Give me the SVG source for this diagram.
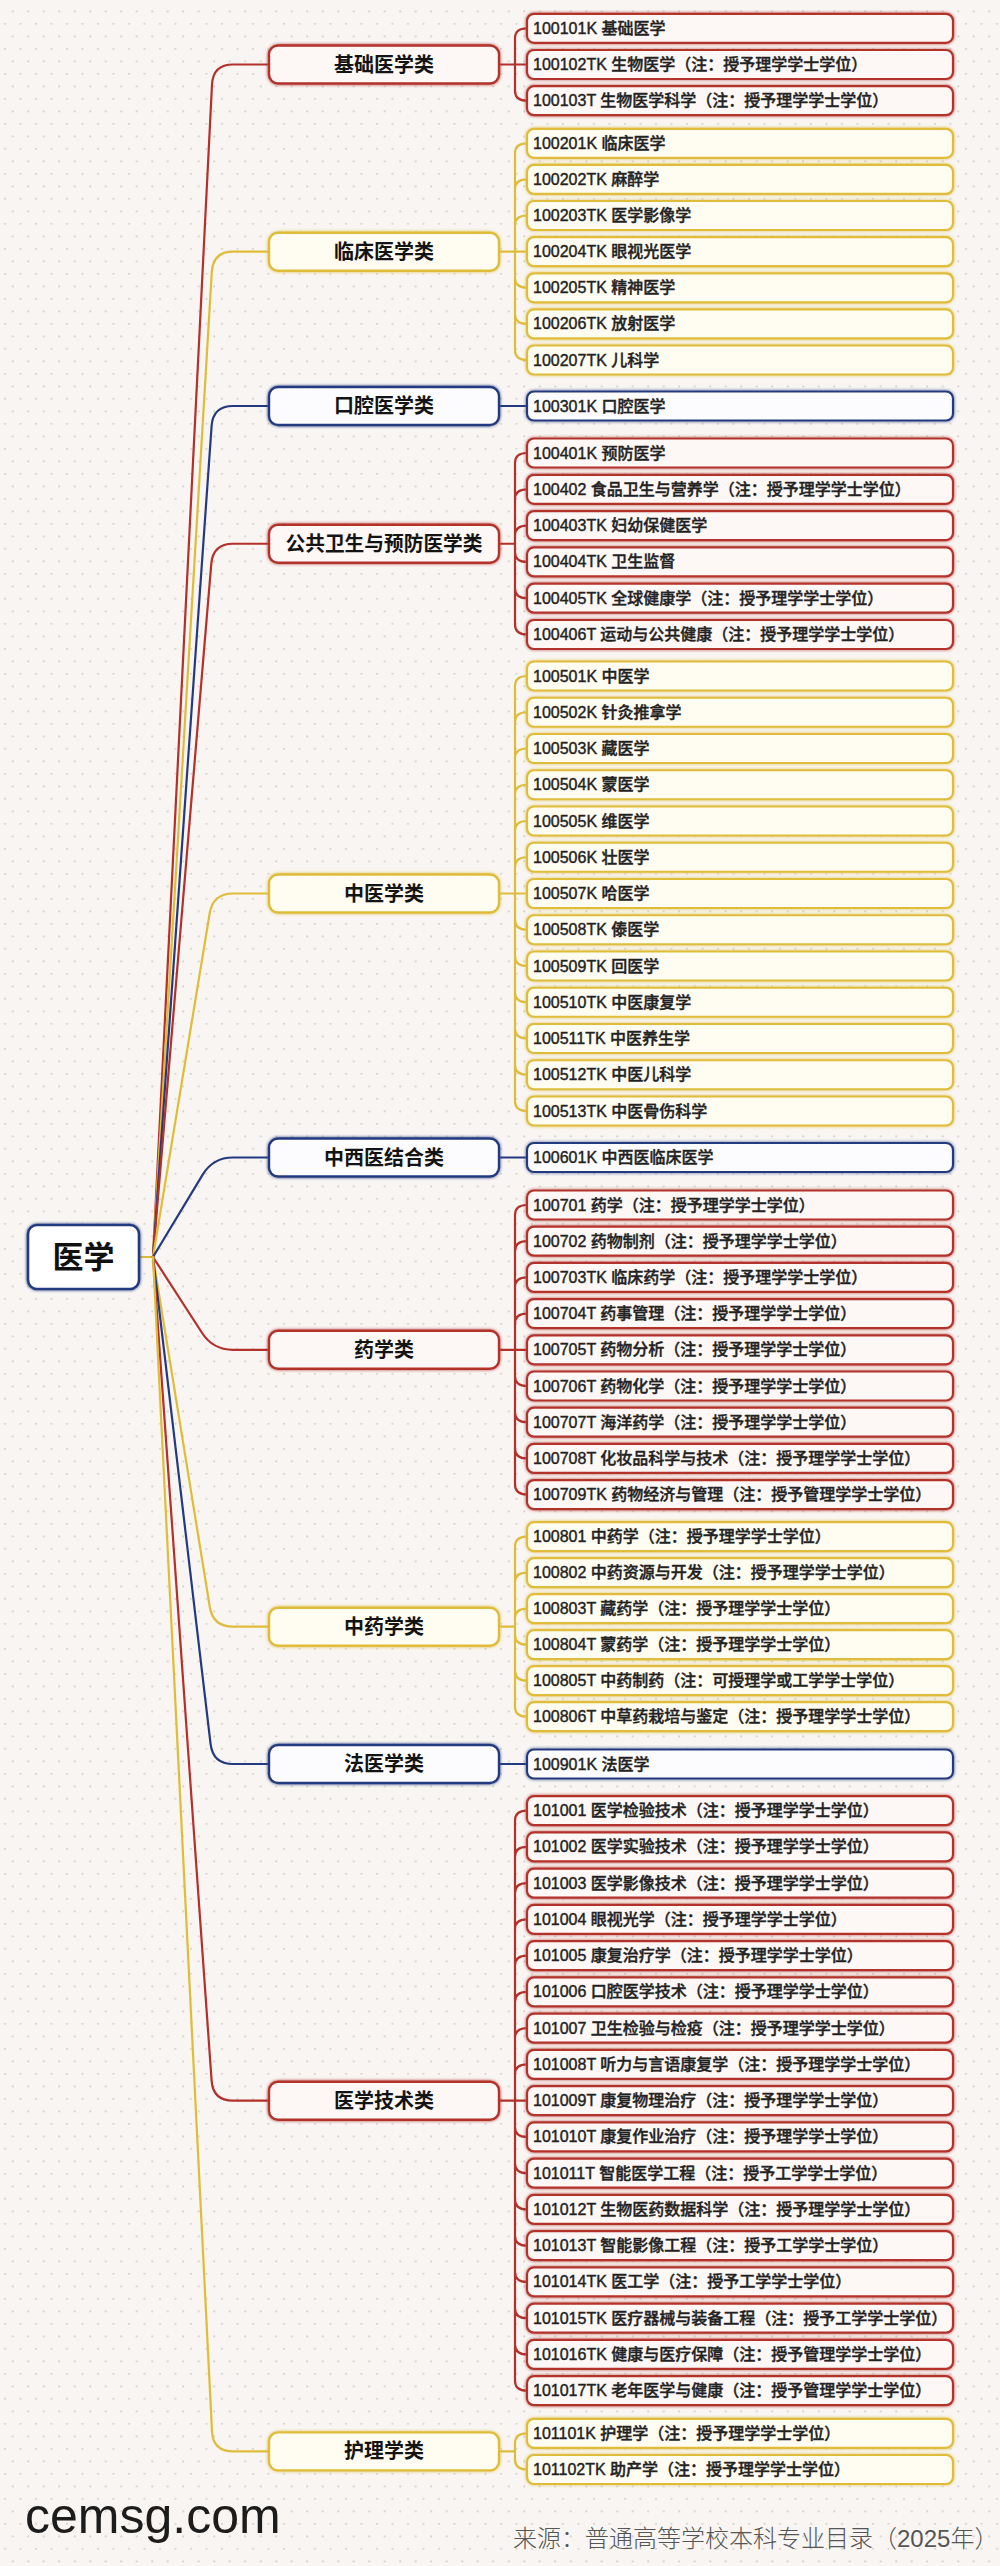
<svg xmlns="http://www.w3.org/2000/svg" width="1000" height="2566" viewBox="0 0 1000 2566">
<defs>
<pattern id="dots" patternUnits="userSpaceOnUse" width="15.5" height="25">
<circle cx="5" cy="23.8" r="1.1" fill="#d9d3ce"/>
<circle cx="12.75" cy="11.4" r="1.1" fill="#d9d3ce"/>
</pattern>
<filter id="glow" x="-5%" y="-30%" width="110%" height="160%">
<feGaussianBlur in="SourceGraphic" stdDeviation="1.6" result="b"/>
<feMerge><feMergeNode in="b"/><feMergeNode in="SourceGraphic"/></feMerge>
</filter>
</defs>
<style>
text{font-family:'Liberation Sans','Noto Sans CJK SC',sans-serif;}
.leaf rect{rx:7px;stroke-width:2.2;filter:url(#glow);}
.cat rect{rx:9px;stroke-width:2.4;filter:url(#glow);}
.leaf text{font-size:16px;font-weight:500;fill:#222222;stroke:#222222;stroke-width:0.4;}
.cat text{font-size:20px;font-weight:bold;fill:#141414;text-anchor:middle;}
.r rect{stroke:#b3302b;fill:#fdf7f5;}
.y rect{stroke:#dfbd3a;fill:#fffcf1;}
.b rect{stroke:#243a80;fill:#fcfcfe;}
#connectors path{fill:none;stroke-width:2.2;stroke-linecap:round;stroke-linejoin:round;}
#connectors .cr{stroke:#b3302b;}
#connectors .cy{stroke:#dfbd3a;}
#connectors .cb{stroke:#243a80;}
</style>
<rect width="1000" height="2566" fill="#f8f5f2"/>
<rect width="1000" height="2566" fill="url(#dots)"/>

<g id="connectors">
<path class="cy" d="M139,1257H153"/>
<path class="cr" d="M153,1257L212,84.5Q213,64.5 233,64.5H269"/>
<path class="cy" d="M153,1257L211.8,271.7Q213,251.7 233,251.7H269"/>
<path class="cb" d="M153,1257L211.6,426Q213,406 233,406H269"/>
<path class="cr" d="M153,1257L211.3,563.7Q213,543.75 233,543.75H269"/>
<path class="cy" d="M153,1257L209.7,913.2Q213,893.5 233,893.5H269"/>
<path class="cb" d="M153,1257L202.7,1174.6Q213,1157.5 233,1157.5H269"/>
<path class="cr" d="M153,1257L202.1,1333Q213,1349.8 233,1349.8H269"/>
<path class="cy" d="M153,1257L209.8,1607Q213,1626.7 233,1626.7H269"/>
<path class="cb" d="M153,1257L210.6,1744.1Q213,1764 233,1764H269"/>
<path class="cr" d="M153,1257L211.6,2080.7Q213,2100.7 233,2100.7H269"/>
<path class="cy" d="M153,1257L212,2431.4Q213,2451.4 233,2451.4H269"/>

<path class="cr" d="M499,64.5H527M515,64.5V38.3Q515,28.3 527,28.3M515,64.5V90.7Q515,100.7 527,100.7"/>
<path class="cy" d="M499,251.7H527M515,251.7V153.3Q515,143.3 527,143.3M515,251.7V189.4Q515,179.4 527,179.4M515,251.7V225.5Q515,215.5 527,215.5M515,251.7V277.8Q515,287.8 527,287.8M515,251.7V313.9Q515,323.9 527,323.9M515,251.7V350Q515,360 527,360"/>
<path class="cb" d="M499,406H527"/>
<path class="cr" d="M499,543.75H515M515,543.75V463Q515,453 527,453M515,543.75V499.3Q515,489.3 527,489.3M515,543.75V535.6Q515,525.6 527,525.6M515,543.75V551.9Q515,561.9 527,561.9M515,543.75V588.2Q515,598.2 527,598.2M515,543.75V624.5Q515,634.5 527,634.5"/>
<path class="cy" d="M499,893.5H527M515,893.5V686Q515,676 527,676M515,893.5V722.25Q515,712.25 527,712.25M515,893.5V758.5Q515,748.5 527,748.5M515,893.5V794.75Q515,784.75 527,784.75M515,893.5V831Q515,821 527,821M515,893.5V867.25Q515,857.25 527,857.25M515,893.5V919.75Q515,929.75 527,929.75M515,893.5V956Q515,966 527,966M515,893.5V992.25Q515,1002.25 527,1002.25M515,893.5V1028.5Q515,1038.5 527,1038.5M515,893.5V1064.75Q515,1074.75 527,1074.75M515,893.5V1101Q515,1111 527,1111"/>
<path class="cb" d="M499,1157.5H527"/>
<path class="cr" d="M499,1349.8H527M515,1349.8V1215Q515,1205 527,1205M515,1349.8V1251.2Q515,1241.2 527,1241.2M515,1349.8V1287.4Q515,1277.4 527,1277.4M515,1349.8V1323.6Q515,1313.6 527,1313.6M515,1349.8V1376Q515,1386 527,1386M515,1349.8V1412.2Q515,1422.2 527,1422.2M515,1349.8V1448.4Q515,1458.4 527,1458.4M515,1349.8V1484.6Q515,1494.6 527,1494.6"/>
<path class="cy" d="M499,1626.7H515M515,1626.7V1546.7Q515,1536.7 527,1536.7M515,1626.7V1582.7Q515,1572.7 527,1572.7M515,1626.7V1618.7Q515,1608.7 527,1608.7M515,1626.7V1634.7Q515,1644.7 527,1644.7M515,1626.7V1670.7Q515,1680.7 527,1680.7M515,1626.7V1706.7Q515,1716.7 527,1716.7"/>
<path class="cb" d="M499,1764H527"/>
<path class="cr" d="M499,2100.7H527M515,2100.7V1820.7Q515,1810.7 527,1810.7M515,2100.7V1856.95Q515,1846.95 527,1846.95M515,2100.7V1893.2Q515,1883.2 527,1883.2M515,2100.7V1929.45Q515,1919.45 527,1919.45M515,2100.7V1965.7Q515,1955.7 527,1955.7M515,2100.7V2001.95Q515,1991.95 527,1991.95M515,2100.7V2038.2Q515,2028.2 527,2028.2M515,2100.7V2074.45Q515,2064.45 527,2064.45M515,2100.7V2126.95Q515,2136.95 527,2136.95M515,2100.7V2163.2Q515,2173.2 527,2173.2M515,2100.7V2199.45Q515,2209.45 527,2209.45M515,2100.7V2235.7Q515,2245.7 527,2245.7M515,2100.7V2271.95Q515,2281.95 527,2281.95M515,2100.7V2308.2Q515,2318.2 527,2318.2M515,2100.7V2344.45Q515,2354.45 527,2354.45M515,2100.7V2380.7Q515,2390.7 527,2390.7"/>
<path class="cy" d="M499,2451.4H515M515,2451.4V2443.3Q515,2433.3 527,2433.3M515,2451.4V2459.5Q515,2469.5 527,2469.5"/>
</g>

<g id="root">
<rect x="28" y="1225" width="111" height="64" rx="9" fill="#ffffff" stroke="#243a80" stroke-width="2.6" filter="url(#glow)"/>
<text x="83.5" y="1268" font-size="31" font-weight="bold" fill="#111" text-anchor="middle">医学</text>
</g>

<g id="c01" class="cat r" transform="translate(0,64.5)"><rect x="269" y="-19" width="230" height="38"/><text x="384" y="7">基础医学类</text></g>
<g id="c02" class="cat y" transform="translate(0,251.7)"><rect x="269" y="-19" width="230" height="38"/><text x="384" y="7">临床医学类</text></g>
<g id="c03" class="cat b" transform="translate(0,406)"><rect x="269" y="-19" width="230" height="38"/><text x="384" y="7">口腔医学类</text></g>
<g id="c04" class="cat r" transform="translate(0,543.75)"><rect x="269" y="-19" width="230" height="38"/><text x="384" y="7" textLength="197" lengthAdjust="spacingAndGlyphs">公共卫生与预防医学类</text></g>
<g id="c05" class="cat y" transform="translate(0,893.5)"><rect x="269" y="-19" width="230" height="38"/><text x="384" y="7">中医学类</text></g>
<g id="c06" class="cat b" transform="translate(0,1157.5)"><rect x="269" y="-19" width="230" height="38"/><text x="384" y="7">中西医结合类</text></g>
<g id="c07" class="cat r" transform="translate(0,1349.8)"><rect x="269" y="-19" width="230" height="38"/><text x="384" y="7">药学类</text></g>
<g id="c08" class="cat y" transform="translate(0,1626.7)"><rect x="269" y="-19" width="230" height="38"/><text x="384" y="7">中药学类</text></g>
<g id="c09" class="cat b" transform="translate(0,1764)"><rect x="269" y="-19" width="230" height="38"/><text x="384" y="7">法医学类</text></g>
<g id="c10" class="cat r" transform="translate(0,2100.7)"><rect x="269" y="-19" width="230" height="38"/><text x="384" y="7">医学技术类</text></g>
<g id="c11" class="cat y" transform="translate(0,2451.4)"><rect x="269" y="-19" width="230" height="38"/><text x="384" y="7">护理学类</text></g>

<g id="l100101" class="leaf r" transform="translate(0,28.3)"><rect x="527" y="-14.5" width="426" height="29"/><text x="533" y="5.5">100101K 基础医学</text></g>
<g id="l100102" class="leaf r" transform="translate(0,64.5)"><rect x="527" y="-14.5" width="426" height="29"/><text x="533" y="5.5">100102TK 生物医学（注：授予理学学士学位）</text></g>
<g id="l100103" class="leaf r" transform="translate(0,100.7)"><rect x="527" y="-14.5" width="426" height="29"/><text x="533" y="5.5">100103T 生物医学科学（注：授予理学学士学位）</text></g>

<g id="l100201" class="leaf y" transform="translate(0,143.3)"><rect x="527" y="-14.5" width="426" height="29"/><text x="533" y="5.5">100201K 临床医学</text></g>
<g id="l100202" class="leaf y" transform="translate(0,179.4)"><rect x="527" y="-14.5" width="426" height="29"/><text x="533" y="5.5">100202TK 麻醉学</text></g>
<g id="l100203" class="leaf y" transform="translate(0,215.5)"><rect x="527" y="-14.5" width="426" height="29"/><text x="533" y="5.5">100203TK 医学影像学</text></g>
<g id="l100204" class="leaf y" transform="translate(0,251.7)"><rect x="527" y="-14.5" width="426" height="29"/><text x="533" y="5.5">100204TK 眼视光医学</text></g>
<g id="l100205" class="leaf y" transform="translate(0,287.8)"><rect x="527" y="-14.5" width="426" height="29"/><text x="533" y="5.5">100205TK 精神医学</text></g>
<g id="l100206" class="leaf y" transform="translate(0,323.9)"><rect x="527" y="-14.5" width="426" height="29"/><text x="533" y="5.5">100206TK 放射医学</text></g>
<g id="l100207" class="leaf y" transform="translate(0,360)"><rect x="527" y="-14.5" width="426" height="29"/><text x="533" y="5.5">100207TK 儿科学</text></g>

<g id="l100301" class="leaf b" transform="translate(0,406)"><rect x="527" y="-14.5" width="426" height="29"/><text x="533" y="5.5">100301K 口腔医学</text></g>

<g id="l100401" class="leaf r" transform="translate(0,453)"><rect x="527" y="-14.5" width="426" height="29"/><text x="533" y="5.5">100401K 预防医学</text></g>
<g id="l100402" class="leaf r" transform="translate(0,489.3)"><rect x="527" y="-14.5" width="426" height="29"/><text x="533" y="5.5">100402 食品卫生与营养学（注：授予理学学士学位）</text></g>
<g id="l100403" class="leaf r" transform="translate(0,525.6)"><rect x="527" y="-14.5" width="426" height="29"/><text x="533" y="5.5">100403TK 妇幼保健医学</text></g>
<g id="l100404" class="leaf r" transform="translate(0,561.9)"><rect x="527" y="-14.5" width="426" height="29"/><text x="533" y="5.5">100404TK 卫生监督</text></g>
<g id="l100405" class="leaf r" transform="translate(0,598.2)"><rect x="527" y="-14.5" width="426" height="29"/><text x="533" y="5.5">100405TK 全球健康学（注：授予理学学士学位）</text></g>
<g id="l100406" class="leaf r" transform="translate(0,634.5)"><rect x="527" y="-14.5" width="426" height="29"/><text x="533" y="5.5">100406T 运动与公共健康（注：授予理学学士学位）</text></g>

<g id="l100501" class="leaf y" transform="translate(0,676)"><rect x="527" y="-14.5" width="426" height="29"/><text x="533" y="5.5">100501K 中医学</text></g>
<g id="l100502" class="leaf y" transform="translate(0,712.25)"><rect x="527" y="-14.5" width="426" height="29"/><text x="533" y="5.5">100502K 针灸推拿学</text></g>
<g id="l100503" class="leaf y" transform="translate(0,748.5)"><rect x="527" y="-14.5" width="426" height="29"/><text x="533" y="5.5">100503K 藏医学</text></g>
<g id="l100504" class="leaf y" transform="translate(0,784.75)"><rect x="527" y="-14.5" width="426" height="29"/><text x="533" y="5.5">100504K 蒙医学</text></g>
<g id="l100505" class="leaf y" transform="translate(0,821)"><rect x="527" y="-14.5" width="426" height="29"/><text x="533" y="5.5">100505K 维医学</text></g>
<g id="l100506" class="leaf y" transform="translate(0,857.25)"><rect x="527" y="-14.5" width="426" height="29"/><text x="533" y="5.5">100506K 壮医学</text></g>
<g id="l100507" class="leaf y" transform="translate(0,893.5)"><rect x="527" y="-14.5" width="426" height="29"/><text x="533" y="5.5">100507K 哈医学</text></g>
<g id="l100508" class="leaf y" transform="translate(0,929.75)"><rect x="527" y="-14.5" width="426" height="29"/><text x="533" y="5.5">100508TK 傣医学</text></g>
<g id="l100509" class="leaf y" transform="translate(0,966)"><rect x="527" y="-14.5" width="426" height="29"/><text x="533" y="5.5">100509TK 回医学</text></g>
<g id="l100510" class="leaf y" transform="translate(0,1002.25)"><rect x="527" y="-14.5" width="426" height="29"/><text x="533" y="5.5">100510TK 中医康复学</text></g>
<g id="l100511" class="leaf y" transform="translate(0,1038.5)"><rect x="527" y="-14.5" width="426" height="29"/><text x="533" y="5.5">100511TK 中医养生学</text></g>
<g id="l100512" class="leaf y" transform="translate(0,1074.75)"><rect x="527" y="-14.5" width="426" height="29"/><text x="533" y="5.5">100512TK 中医儿科学</text></g>
<g id="l100513" class="leaf y" transform="translate(0,1111)"><rect x="527" y="-14.5" width="426" height="29"/><text x="533" y="5.5">100513TK 中医骨伤科学</text></g>

<g id="l100601" class="leaf b" transform="translate(0,1157.5)"><rect x="527" y="-14.5" width="426" height="29"/><text x="533" y="5.5">100601K 中西医临床医学</text></g>

<g id="l100701" class="leaf r" transform="translate(0,1205)"><rect x="527" y="-14.5" width="426" height="29"/><text x="533" y="5.5">100701 药学（注：授予理学学士学位）</text></g>
<g id="l100702" class="leaf r" transform="translate(0,1241.2)"><rect x="527" y="-14.5" width="426" height="29"/><text x="533" y="5.5">100702 药物制剂（注：授予理学学士学位）</text></g>
<g id="l100703" class="leaf r" transform="translate(0,1277.4)"><rect x="527" y="-14.5" width="426" height="29"/><text x="533" y="5.5">100703TK 临床药学（注：授予理学学士学位）</text></g>
<g id="l100704" class="leaf r" transform="translate(0,1313.6)"><rect x="527" y="-14.5" width="426" height="29"/><text x="533" y="5.5">100704T 药事管理（注：授予理学学士学位）</text></g>
<g id="l100705" class="leaf r" transform="translate(0,1349.8)"><rect x="527" y="-14.5" width="426" height="29"/><text x="533" y="5.5">100705T 药物分析（注：授予理学学士学位）</text></g>
<g id="l100706" class="leaf r" transform="translate(0,1386)"><rect x="527" y="-14.5" width="426" height="29"/><text x="533" y="5.5">100706T 药物化学（注：授予理学学士学位）</text></g>
<g id="l100707" class="leaf r" transform="translate(0,1422.2)"><rect x="527" y="-14.5" width="426" height="29"/><text x="533" y="5.5">100707T 海洋药学（注：授予理学学士学位）</text></g>
<g id="l100708" class="leaf r" transform="translate(0,1458.4)"><rect x="527" y="-14.5" width="426" height="29"/><text x="533" y="5.5">100708T 化妆品科学与技术（注：授予理学学士学位）</text></g>
<g id="l100709" class="leaf r" transform="translate(0,1494.6)"><rect x="527" y="-14.5" width="426" height="29"/><text x="533" y="5.5">100709TK 药物经济与管理（注：授予管理学学士学位）</text></g>

<g id="l100801" class="leaf y" transform="translate(0,1536.7)"><rect x="527" y="-14.5" width="426" height="29"/><text x="533" y="5.5">100801 中药学（注：授予理学学士学位）</text></g>
<g id="l100802" class="leaf y" transform="translate(0,1572.7)"><rect x="527" y="-14.5" width="426" height="29"/><text x="533" y="5.5">100802 中药资源与开发（注：授予理学学士学位）</text></g>
<g id="l100803" class="leaf y" transform="translate(0,1608.7)"><rect x="527" y="-14.5" width="426" height="29"/><text x="533" y="5.5">100803T 藏药学（注：授予理学学士学位）</text></g>
<g id="l100804" class="leaf y" transform="translate(0,1644.7)"><rect x="527" y="-14.5" width="426" height="29"/><text x="533" y="5.5">100804T 蒙药学（注：授予理学学士学位）</text></g>
<g id="l100805" class="leaf y" transform="translate(0,1680.7)"><rect x="527" y="-14.5" width="426" height="29"/><text x="533" y="5.5">100805T 中药制药（注：可授理学或工学学士学位）</text></g>
<g id="l100806" class="leaf y" transform="translate(0,1716.7)"><rect x="527" y="-14.5" width="426" height="29"/><text x="533" y="5.5">100806T 中草药栽培与鉴定（注：授予理学学士学位）</text></g>

<g id="l100901" class="leaf b" transform="translate(0,1764)"><rect x="527" y="-14.5" width="426" height="29"/><text x="533" y="5.5">100901K 法医学</text></g>

<g id="l101001" class="leaf r" transform="translate(0,1810.7)"><rect x="527" y="-14.5" width="426" height="29"/><text x="533" y="5.5">101001 医学检验技术（注：授予理学学士学位）</text></g>
<g id="l101002" class="leaf r" transform="translate(0,1846.95)"><rect x="527" y="-14.5" width="426" height="29"/><text x="533" y="5.5">101002 医学实验技术（注：授予理学学士学位）</text></g>
<g id="l101003" class="leaf r" transform="translate(0,1883.2)"><rect x="527" y="-14.5" width="426" height="29"/><text x="533" y="5.5">101003 医学影像技术（注：授予理学学士学位）</text></g>
<g id="l101004" class="leaf r" transform="translate(0,1919.45)"><rect x="527" y="-14.5" width="426" height="29"/><text x="533" y="5.5">101004 眼视光学（注：授予理学学士学位）</text></g>
<g id="l101005" class="leaf r" transform="translate(0,1955.7)"><rect x="527" y="-14.5" width="426" height="29"/><text x="533" y="5.5">101005 康复治疗学（注：授予理学学士学位）</text></g>
<g id="l101006" class="leaf r" transform="translate(0,1991.95)"><rect x="527" y="-14.5" width="426" height="29"/><text x="533" y="5.5">101006 口腔医学技术（注：授予理学学士学位）</text></g>
<g id="l101007" class="leaf r" transform="translate(0,2028.2)"><rect x="527" y="-14.5" width="426" height="29"/><text x="533" y="5.5">101007 卫生检验与检疫（注：授予理学学士学位）</text></g>
<g id="l101008" class="leaf r" transform="translate(0,2064.45)"><rect x="527" y="-14.5" width="426" height="29"/><text x="533" y="5.5">101008T 听力与言语康复学（注：授予理学学士学位）</text></g>
<g id="l101009" class="leaf r" transform="translate(0,2100.7)"><rect x="527" y="-14.5" width="426" height="29"/><text x="533" y="5.5">101009T 康复物理治疗（注：授予理学学士学位）</text></g>
<g id="l101010" class="leaf r" transform="translate(0,2136.95)"><rect x="527" y="-14.5" width="426" height="29"/><text x="533" y="5.5">101010T 康复作业治疗（注：授予理学学士学位）</text></g>
<g id="l101011" class="leaf r" transform="translate(0,2173.2)"><rect x="527" y="-14.5" width="426" height="29"/><text x="533" y="5.5">101011T 智能医学工程（注：授予工学学士学位）</text></g>
<g id="l101012" class="leaf r" transform="translate(0,2209.45)"><rect x="527" y="-14.5" width="426" height="29"/><text x="533" y="5.5">101012T 生物医药数据科学（注：授予理学学士学位）</text></g>
<g id="l101013" class="leaf r" transform="translate(0,2245.7)"><rect x="527" y="-14.5" width="426" height="29"/><text x="533" y="5.5">101013T 智能影像工程（注：授予工学学士学位）</text></g>
<g id="l101014" class="leaf r" transform="translate(0,2281.95)"><rect x="527" y="-14.5" width="426" height="29"/><text x="533" y="5.5">101014TK 医工学（注：授予工学学士学位）</text></g>
<g id="l101015" class="leaf r" transform="translate(0,2318.2)"><rect x="527" y="-14.5" width="426" height="29"/><text x="533" y="5.5">101015TK 医疗器械与装备工程（注：授予工学学士学位）</text></g>
<g id="l101016" class="leaf r" transform="translate(0,2354.45)"><rect x="527" y="-14.5" width="426" height="29"/><text x="533" y="5.5">101016TK 健康与医疗保障（注：授予管理学学士学位）</text></g>
<g id="l101017" class="leaf r" transform="translate(0,2390.7)"><rect x="527" y="-14.5" width="426" height="29"/><text x="533" y="5.5">101017TK 老年医学与健康（注：授予管理学学士学位）</text></g>

<g id="l101101" class="leaf y" transform="translate(0,2433.3)"><rect x="527" y="-14.5" width="426" height="29"/><text x="533" y="5.5">101101K 护理学（注：授予理学学士学位）</text></g>
<g id="l101102" class="leaf y" transform="translate(0,2469.5)"><rect x="527" y="-14.5" width="426" height="29"/><text x="533" y="5.5">101102TK 助产学（注：授予理学学士学位）</text></g>

<text x="25" y="2533" font-size="50" fill="#1c1c1c">cemsg.com</text>
<text x="513" y="2547" font-size="24" font-weight="300" fill="#555555">来源：普通高等学校本科专业目录（2025年）</text>
</svg>
